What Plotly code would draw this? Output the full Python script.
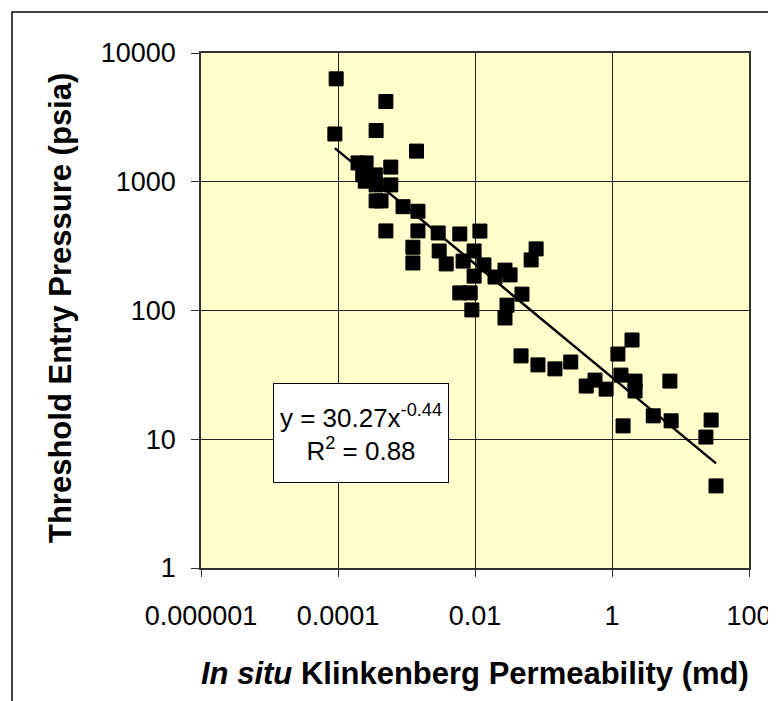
import numpy as np
import plotly.graph_objects as go

# Data
perm_md = [9.4e-5, 5.0e-4, 9.0e-5, 3.6e-4, 1.4e-3, 1.96e-4, 2.57e-4, 5.9e-4, 2.3e-4, 3.5e-4,
           2.5e-4, 5.9e-4, 3.6e-4, 3.6e-4, 4.25e-4, 8.9e-4, 1.47e-3, 5.0e-4, 1.47e-3, 2.9e-3,
           1.24e-3, 3.0e-3, 1.24e-3, 3.8e-3, 6.0e-3, 0.0118, 6.7e-3, 9.7e-3, 0.0135, 9.7e-3,
           0.0196, 0.0274, 0.0325, 6.0e-3, 8.5e-3, 0.0485, 9.0e-3, 0.0293, 0.0274, 0.066,
           0.078, 0.047, 0.083, 0.147, 0.25, 0.42, 0.565, 0.82, 1.22, 1.96,
           1.35, 2.17, 2.17, 1.45, 7.0, 4.0, 7.3, 28.0, 23.5, 33.0]
pressure_psia = [6300, 4200, 2350, 2500, 1730, 1400, 1400, 1300, 1130, 1130,
                 1010, 945, 945, 710, 710, 640, 590, 415, 415, 400,
                 310, 290, 234, 230, 393, 414, 242, 290, 226, 185,
                 182, 206, 189, 137, 137, 134, 101, 110, 87.5, 247,
                 301, 44.4, 37.8, 35.2, 39.8, 25.9, 28.8, 24.5, 45.9, 59.0,
                 31.5, 28.3, 23.7, 12.7, 28.3, 15.2, 13.9, 14.1, 10.4, 4.34]

# Power-law trendline shown on the chart
fit_coef = 30.27
fit_exp = -0.44
fit_r2 = 0.88

x_tickvals = [1e-6, 1e-4, 1e-2, 1, 100]
x_ticktext = ["0.000001", "0.0001", "0.01", "1", "100"]
y_tickvals = [1, 10, 100, 1000, 10000]
y_ticktext = ["1", "10", "100", "1000", "10000"]

FONT = "Liberation Sans, Arial, sans-serif"

trend_x = np.logspace(np.log10(min(perm_md)), np.log10(max(perm_md)), 50)
trend_y = fit_coef * trend_x ** fit_exp

fig = go.Figure()
fig.add_trace(go.Scatter(
    x=trend_x, y=trend_y, mode="lines",
    line=dict(color="black", width=2.5), hoverinfo="skip"))
fig.add_trace(go.Scatter(
    x=perm_md, y=pressure_psia, mode="markers",
    marker=dict(symbol="square", size=14, color="black",
                line=dict(color="black", width=1))))

W, H = 776, 701
L, R, T, B = 193, 35, 45, 141
pw, ph = W - L - R, H - T - B

def px2paper_x(px):
    return (px - L) / pw

def px2paper_y(py):
    return (H - B - py) / ph

fig.update_layout(
    width=W, height=H,
    margin=dict(l=L, r=R, t=T, b=B, pad=0),
    paper_bgcolor="white",
    plot_bgcolor="#FFFFCC",
    showlegend=False,
    font=dict(family=FONT, color="black", size=22),
    xaxis=dict(
        type="log", range=[-6, 2],
        tickmode="array", tickvals=x_tickvals, ticktext=x_ticktext,
        showgrid=True, gridcolor="#222222", gridwidth=1,
        showline=True, linecolor="#333333", linewidth=1.5, mirror=True,
        ticks="outside", ticklen=7, tickcolor="#333333",
        tickfont=dict(size=27), ticklabelstandoff=16,
        zeroline=False,
    ),
    yaxis=dict(
        type="log", range=[0, 4],
        tickmode="array", tickvals=y_tickvals, ticktext=y_ticktext,
        showgrid=True, gridcolor="#222222", gridwidth=1,
        showline=True, linecolor="#333333", linewidth=1.5, mirror=True,
        ticks="outside", ticklen=8, tickcolor="#333333",
        tickfont=dict(size=27), ticklabelstandoff=10,
        zeroline=False,
    ),
    annotations=[
        dict(
            text=f"y = {fit_coef}x<sup>{fit_exp}</sup><br>R<sup>2</sup> = {fit_r2}",
            xref="paper", yref="paper",
            x=px2paper_x(352.5), y=px2paper_y(425.5),
            xanchor="center", yanchor="middle",
            showarrow=False, align="center",
            font=dict(size=26, family=FONT),
            bgcolor="white", bordercolor="black", borderwidth=1,
            width=166, height=90, borderpad=4,
        ),
        dict(
            text="<b>Threshold Entry Pressure (psia)</b>",
            xref="paper", yref="paper",
            x=px2paper_x(52), y=px2paper_y(300),
            xanchor="center", yanchor="middle", textangle=-90,
            showarrow=False, font=dict(size=31, family=FONT),
        ),
        dict(
            text="<b><i>In situ</i> Klinkenberg Permeability (md)</b>",
            xref="paper", yref="paper",
            x=px2paper_x(467), y=px2paper_y(665),
            xanchor="center", yanchor="middle",
            showarrow=False, font=dict(size=31, family=FONT),
        ),
    ],
    shapes=[
        dict(type="path", xref="paper", yref="paper",
             path=(f"M {px2paper_x(4)} {px2paper_y(710)} "
                   f"L {px2paper_x(4)} {px2paper_y(4)} "
                   f"L {px2paper_x(771)} {px2paper_y(4)} "
                   f"L {px2paper_x(771)} {px2paper_y(710)}"),
             line=dict(color="black", width=1.5)),
    ],
)

fig.write_html("out.html")
